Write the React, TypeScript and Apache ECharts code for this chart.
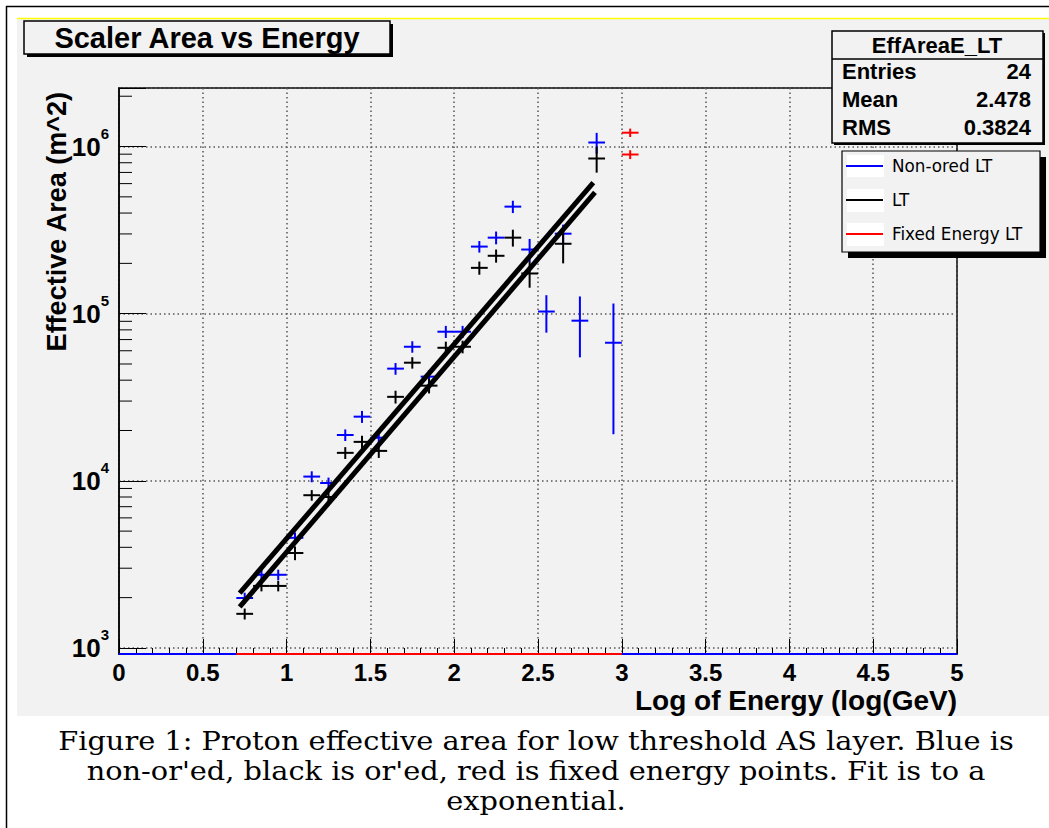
import { useEffect, useRef } from "react";
import * as echarts from "echarts";

// Effective area per energy bin: [log10(E / GeV), area (m^2), vertical error]
const nonOredLT: number[][] = [
  [0.75, 1990, 150],
  [0.85, 2740, 200],
  [0.95, 2740, 200],
  [1.05, 4560, 350],
  [1.15, 10600, 800],
  [1.25, 9700, 750],
  [1.35, 18800, 1500],
  [1.45, 24200, 2000],
  [1.55, 18100, 1600],
  [1.65, 46900, 3800],
  [1.75, 63400, 5000],
  [1.85, 42000, 3800],
  [1.95, 78000, 6500],
  [2.05, 78000, 6500],
  [2.15, 252000, 20000],
  [2.25, 285000, 25000],
  [2.35, 437000, 37000],
  [2.45, 242000, 38000],
  [2.55, 103000, 26000],
  [2.65, 301000, 40000],
  [2.75, 90800, 36000],
  [2.85, 1057000, 150000],
  [2.95, 67000, 48000],
];

const oredLT: number[][] = [
  [0.75, 1600, 120],
  [0.85, 2350, 170],
  [0.95, 2350, 170],
  [1.05, 3700, 350],
  [1.15, 8200, 600],
  [1.25, 8000, 600],
  [1.35, 14700, 1200],
  [1.45, 17100, 1500],
  [1.55, 15100, 1400],
  [1.65, 31800, 2800],
  [1.75, 50900, 4000],
  [1.85, 37100, 3800],
  [1.95, 62500, 5500],
  [2.05, 63400, 5500],
  [2.15, 188000, 17000],
  [2.25, 222000, 20000],
  [2.35, 285000, 33000],
  [2.45, 174000, 31000],
  [2.65, 262000, 62000],
  [2.85, 848000, 150000],
];

const fixedEnergyLT: number[][] = [
  [3.05, 1210000, 70000],
  [3.05, 896000, 55000],
];

// half width of an energy bin (horizontal error bar)
const binHalfWidth = 0.05;

// exponential fits, given by their end points
const fitNonOred: number[][] = [
  [0.72, 2130],
  [2.83, 608000],
];
const fitOred: number[][] = [
  [0.72, 1760],
  [2.84, 531000],
];

// axis ranges
const xMin = 0;
const xMax = 5;
const xStep = 0.5;
const yMin = 920;
const yMax = 2.24e6;
const yDecades = [1e3, 1e4, 1e5, 1e6];
const yMinorMantissas = [2, 3, 4, 5, 6, 7, 8, 9];

// empty-bin outlines of the histograms along the bottom
const blueBaseline: number[][] = [
  [0, yMin],
  [5, yMin],
];
const redBaseline: number[][] = [
  [0.7, yMin],
  [3.0, yMin],
];

// statistics box
const statsName = "EffAreaE_LT";
const statsRows: [string, string][] = [
  ["Entries", "24"],
  ["Mean", "2.478"],
  ["RMS", "0.3824"],
];

const legendNames = ["Non-ored LT", "LT", "Fixed Energy LT"];

const xTitle = "Log of Energy (log(GeV)";
const yTitle = "Effective Area (m^2)";

const captionLines = [
  "Figure 1: Proton effective area for low threshold AS layer. Blue is",
  "non-or'ed, black is or'ed, red is fixed energy points. Fit is to a",
  "exponential.",
];

const SANS = "'Liberation Sans', Arial, Helvetica, sans-serif";
const DEJAVU = "'DejaVu Sans', sans-serif";
const SERIF = "'DejaVu Serif', serif";
const PANEL = "#f2f2f2";

function errorBarSeries(name: string, color: string, data: number[][]) {
  return {
    name,
    type: "custom",
    z: 3,
    itemStyle: { color },
    encode: { x: 0, y: 1 },
    data,
    renderItem: (_params: any, api: any) => {
      const x = api.value(0);
      const y = api.value(1);
      const e = api.value(2);
      const left = api.coord([x - binHalfWidth, y]);
      const right = api.coord([x + binHalfWidth, y]);
      const low = api.coord([x, Math.max(y - e, yMin)]);
      const high = api.coord([x, y + e]);
      const style = { stroke: color, lineWidth: 2 };
      return {
        type: "group",
        children: [
          { type: "line", shape: { x1: left[0], y1: left[1], x2: right[0], y2: right[1] }, style },
          { type: "line", shape: { x1: low[0], y1: low[1], x2: high[0], y2: high[1] }, style },
        ],
      };
    },
  };
}

export default function App() {
  const ref = useRef<HTMLDivElement>(null);

  useEffect(() => {
    if (!ref.current) return;
    const chart = echarts.init(ref.current, null, { renderer: "svg", width: 1049, height: 828 });

    const yMinorTicks: number[][] = [];
    yDecades.forEach((d) =>
      yMinorMantissas.forEach((m) => {
        if (m * d < yMax) yMinorTicks.push([xMin, m * d]);
      })
    );

    const statsGraphics: any[] = [
      { type: "rect", z: 3, shape: { x: 834, y: 33, width: 211, height: 112 }, style: { fill: "#000" } },
      {
        type: "rect",
        z: 3.1,
        shape: { x: 832, y: 31, width: 211, height: 112 },
        style: { fill: PANEL, stroke: "#000", lineWidth: 1.5 },
      },
      { type: "line", z: 3.2, shape: { x1: 832, y1: 59, x2: 1043, y2: 59 }, style: { stroke: "#000", lineWidth: 1.5 } },
      {
        type: "text",
        z: 3.3,
        style: {
          text: statsName,
          x: 937,
          y: 45,
          align: "center",
          verticalAlign: "middle",
          fontFamily: SANS,
          fontWeight: "bold",
          fontSize: 22,
          fill: "#000",
        },
      },
    ];
    statsRows.forEach(([label, value], i) => {
      const y = 71 + i * 28;
      statsGraphics.push({
        type: "text",
        z: 3.3,
        style: { text: label, x: 842, y, align: "left", verticalAlign: "middle", fontFamily: SANS, fontWeight: "bold", fontSize: 22, fill: "#000" },
      });
      statsGraphics.push({
        type: "text",
        z: 3.3,
        style: { text: value, x: 1031, y, align: "right", verticalAlign: "middle", fontFamily: SANS, fontWeight: "bold", fontSize: 22, fill: "#000" },
      });
    });

    // caption below the canvas, one text per line, slightly widened serif
    const captionGraphics: any[] = captionLines.map((line, i) => ({
      type: "text",
      z: 5,
      x: 536,
      y: 741 + i * 30,
      scaleX: 1.13,
      style: {
        text: line,
        x: 0,
        y: 0,
        align: "center",
        verticalAlign: "middle",
        fontFamily: SERIF,
        fontSize: 25.5,
        fill: "#000",
      },
    }));

    const option: any = {
      animation: false,
      backgroundColor: "#ffffff",
      title: {
        text: "Scaler Area vs Energy",
        left: 207,
        top: 23,
        textAlign: "center",
        padding: 0,
        z: 6,
        textStyle: { fontFamily: SANS, fontWeight: "bold", fontSize: 29, color: "#000", lineHeight: 30 },
      },
      legend: {
        data: legendNames,
        orient: "vertical",
        left: 846,
        top: 156,
        padding: 0,
        itemWidth: 37,
        itemHeight: 2,
        itemGap: 14,
        icon: "rect",
        selectedMode: false,
        z: 4,
        textStyle: { fontFamily: DEJAVU, fontSize: 16.8, color: "#000", lineHeight: 20, padding: [0, 0, 0, 4] },
      },
      grid: {
        left: 119,
        top: 88,
        width: 838,
        height: 566,
        outerBoundsMode: "none",
        containLabel: false,
        show: true,
        borderColor: "#000",
        borderWidth: 1.5,
        backgroundColor: "transparent",
      },
      xAxis: {
        type: "value",
        min: xMin,
        max: xMax,
        interval: xStep,
        name: xTitle,
        nameLocation: "end",
        nameGap: 0,
        nameTextStyle: {
          fontFamily: SANS,
          fontWeight: "bold",
          fontSize: 28,
          color: "#000",
          align: "right",
          verticalAlign: "top",
          padding: [32, 0, 0, 0],
        },
        axisLine: { show: true, lineStyle: { color: "#000", width: 1.5 } },
        axisTick: { show: true, inside: true, length: 15, lineStyle: { color: "#000", width: 1 } },
        minorTick: { show: true, splitNumber: 5, length: 6, lineStyle: { color: "#000", width: 1 } },
        axisLabel: {
          margin: 6,
          fontFamily: SANS,
          fontWeight: "bold",
          fontSize: 24,
          color: "#000",
          showMinLabel: true,
          showMaxLabel: true,
        },
        splitLine: { show: true, lineStyle: { color: "#555", width: 1.5, type: [1.5, 3] } },
      },
      yAxis: {
        type: "log",
        logBase: 10,
        min: yMin,
        max: yMax,
        axisLine: { show: true, lineStyle: { color: "#000", width: 1.5 } },
        axisTick: { show: true, inside: true, length: 27, lineStyle: { color: "#000", width: 1 } },
        axisLabel: {
          margin: 10,
          formatter: (v: number) => {
            const e = Math.log10(v);
            const r = Math.round(e);
            if (Math.abs(e - r) > 1e-6) return "";
            return `{b|10}{s|${r}}`;
          },
          rich: {
            b: { fontFamily: SANS, fontWeight: "bold", fontSize: 26, lineHeight: 42, color: "#000" },
            s: { fontFamily: SANS, fontWeight: "bold", fontSize: 15, lineHeight: 16, verticalAlign: "top", color: "#000" },
          },
        },
        splitLine: { show: true, lineStyle: { color: "#555", width: 1.5, type: [1.5, 3] } },
      },
      series: [
        errorBarSeries("Non-ored LT", "#0000ff", nonOredLT),
        errorBarSeries("LT", "#000000", oredLT),
        errorBarSeries("Fixed Energy LT", "#ff0000", fixedEnergyLT),
        {
          name: "fit non-ored",
          type: "line",
          z: 4,
          data: fitNonOred,
          symbol: "none",
          lineStyle: { color: "#000", width: 5 },
        },
        {
          name: "fit ored",
          type: "line",
          z: 4,
          data: fitOred,
          symbol: "none",
          lineStyle: { color: "#000", width: 5 },
        },
        {
          name: "blue baseline",
          type: "line",
          z: 3,
          data: blueBaseline,
          symbol: "none",
          lineStyle: { color: "#0000ff", width: 2 },
        },
        {
          name: "red baseline",
          type: "line",
          z: 3,
          data: redBaseline,
          symbol: "none",
          lineStyle: { color: "#ff0000", width: 2 },
        },
        {
          name: "y minor ticks",
          type: "custom",
          z: 2,
          data: yMinorTicks,
          encode: { x: 0, y: 1 },
          renderItem: (_params: any, api: any) => {
            const p = api.coord([api.value(0), api.value(1)]);
            return {
              type: "line",
              shape: { x1: p[0], y1: p[1], x2: p[0] + 13, y2: p[1] },
              style: { stroke: "#000", lineWidth: 1 },
            };
          },
        },
      ],
      graphic: [
        // canvas
        { type: "rect", z: -10, shape: { x: 17, y: 18, width: 1032, height: 698 }, style: { fill: PANEL } },
        { type: "line", z: -9, shape: { x1: 17, y1: 18.5, x2: 1049, y2: 18.5 }, style: { stroke: "#ffff00", lineWidth: 1.5 } },
        // plain white strip along the page bottom
        { type: "rect", z: 8, shape: { x: 0, y: 818, width: 1049, height: 10 }, style: { fill: "#fff" } },
        // page border
        { type: "line", z: 9, shape: { x1: 6.5, y1: 6, x2: 6.5, y2: 828 }, style: { stroke: "#000", lineWidth: 1.5 } },
        { type: "line", z: 9, shape: { x1: 6, y1: 6.5, x2: 1049, y2: 6.5 }, style: { stroke: "#000", lineWidth: 1.5 } },
        // y axis title, reading upwards, ending near the top of the frame
        {
          type: "text",
          z: 5,
          x: 57,
          y: 92,
          rotation: Math.PI / 2,
          style: {
            text: yTitle,
            x: 0,
            y: 0,
            align: "right",
            verticalAlign: "middle",
            fontFamily: SANS,
            fontWeight: "bold",
            fontSize: 27,
            fill: "#000",
          },
        },
        // title box
        { type: "rect", z: 5, shape: { x: 27, y: 24, width: 366, height: 33 }, style: { fill: "#000" } },
        {
          type: "rect",
          z: 5.1,
          shape: { x: 24, y: 21, width: 366, height: 33 },
          style: { fill: PANEL, stroke: "#000", lineWidth: 1.5 },
        },
        ...statsGraphics,
        // legend box
        { type: "rect", z: 3, shape: { x: 848, y: 157, width: 198, height: 101 }, style: { fill: "#000" } },
        {
          type: "rect",
          z: 3.1,
          shape: { x: 842, y: 151, width: 198, height: 101 },
          style: { fill: PANEL, stroke: "#000", lineWidth: 1.2 },
        },
        { type: "rect", z: 3.2, shape: { x: 847, y: 155, width: 37, height: 22 }, style: { fill: "#fff" } },
        { type: "rect", z: 3.2, shape: { x: 847, y: 189, width: 37, height: 23 }, style: { fill: "#fff" } },
        { type: "rect", z: 3.2, shape: { x: 847, y: 223, width: 37, height: 23 }, style: { fill: "#fff" } },
        ...captionGraphics,
      ],
    };

    chart.setOption(option);
    return () => chart.dispose();
  }, []);

  return (
    <div
      ref={ref}
      style={{ position: "absolute", left: 0, top: 0, width: 1049, height: 828, overflow: "hidden" }}
    />
  );
}
